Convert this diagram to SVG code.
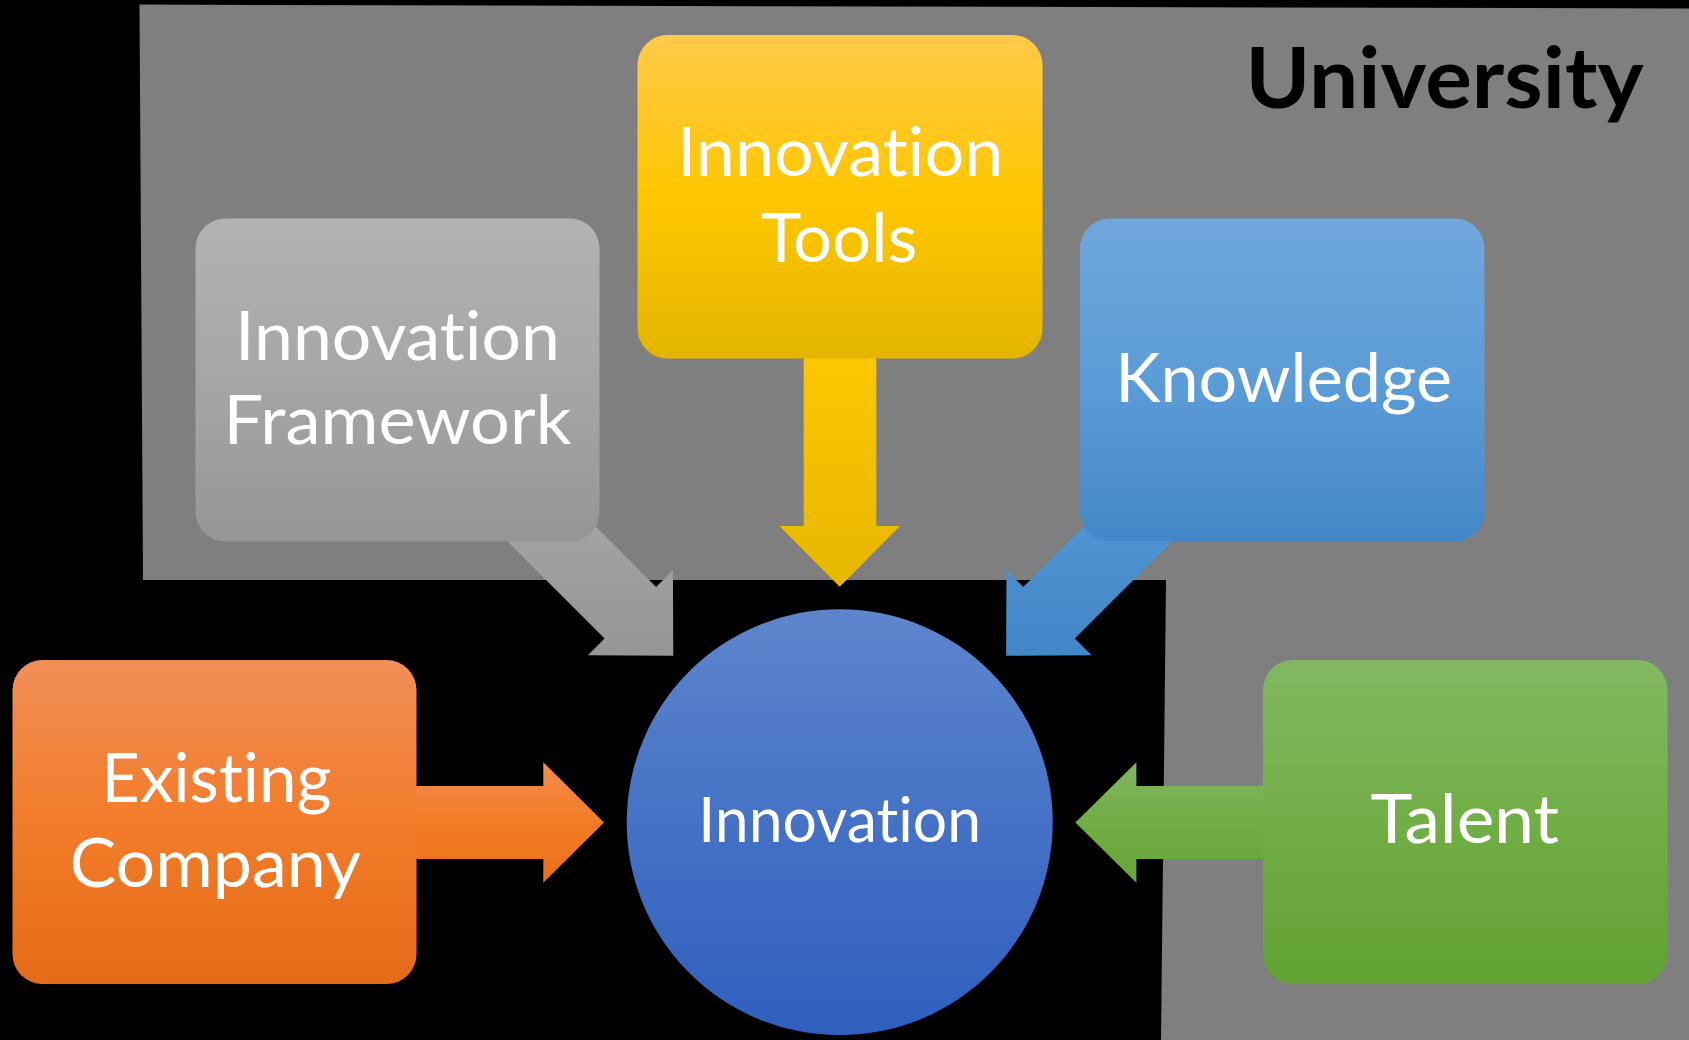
<svg xmlns="http://www.w3.org/2000/svg" width="1689" height="1040" viewBox="0 0 1689 1040">
  <defs>
    <linearGradient id="gGray" x1="0" y1="0" x2="0" y2="1">
      <stop offset="0" stop-color="#b2b2b2"/>
      <stop offset="0.5" stop-color="#a6a6a6"/>
      <stop offset="1" stop-color="#959595"/>
    </linearGradient>
    <linearGradient id="gYellow" x1="0" y1="0" x2="0" y2="1">
      <stop offset="0" stop-color="#ffc94a"/>
      <stop offset="0.5" stop-color="#ffc700"/>
      <stop offset="1" stop-color="#e3b500"/>
    </linearGradient>
    <linearGradient id="gBlue" x1="0" y1="0" x2="0" y2="1">
      <stop offset="0" stop-color="#70a6dc"/>
      <stop offset="0.5" stop-color="#5c9cd7"/>
      <stop offset="1" stop-color="#4488c9"/>
    </linearGradient>
    <linearGradient id="gOrange" x1="0" y1="0" x2="0" y2="1">
      <stop offset="0" stop-color="#f18e58"/>
      <stop offset="0.5" stop-color="#f37c2a"/>
      <stop offset="1" stop-color="#e46b17"/>
    </linearGradient>
    <linearGradient id="gGreen" x1="0" y1="0" x2="0" y2="1">
      <stop offset="0" stop-color="#82b862"/>
      <stop offset="0.5" stop-color="#71ae46"/>
      <stop offset="1" stop-color="#61a233"/>
    </linearGradient>
    <linearGradient id="gCircle" x1="0" y1="0" x2="0" y2="1">
      <stop offset="0" stop-color="#5e85cc"/>
      <stop offset="0.5" stop-color="#4572c6"/>
      <stop offset="1" stop-color="#2f5fbd"/>
    </linearGradient>
    <linearGradient id="aGray" x1="0" y1="0" x2="0" y2="1">
      <stop offset="0" stop-color="#a8a8a8"/>
      <stop offset="1" stop-color="#959595"/>
    </linearGradient>
    <linearGradient id="aYellow" x1="0" y1="0" x2="0" y2="1">
      <stop offset="0" stop-color="#ffc800"/>
      <stop offset="1" stop-color="#e6b700"/>
    </linearGradient>
    <linearGradient id="aBlue" x1="0" y1="0" x2="0" y2="1">
      <stop offset="0" stop-color="#5499d7"/>
      <stop offset="1" stop-color="#4386c7"/>
    </linearGradient>
    <linearGradient id="aOrange" x1="0" y1="0" x2="0" y2="1">
      <stop offset="0" stop-color="#f28d52"/>
      <stop offset="0.5" stop-color="#f47b25"/>
      <stop offset="1" stop-color="#e96e1a"/>
    </linearGradient>
    <linearGradient id="aGreen" x1="0" y1="0" x2="0" y2="1">
      <stop offset="0" stop-color="#80b660"/>
      <stop offset="0.5" stop-color="#70ad45"/>
      <stop offset="1" stop-color="#66a63a"/>
    </linearGradient>
  </defs>
  <style>
    .lbl { font-family: Lato, "Open Sans", "Liberation Sans", sans-serif; font-size: 68px; fill: #ffffff; text-anchor: middle; font-variant-ligatures: none; font-feature-settings: "liga" 0, "clig" 0; }
    .title { font-family: Lato, "Open Sans", "Liberation Sans", sans-serif; font-size: 84px; font-weight: 700; fill: #000000; text-anchor: middle; font-variant-ligatures: none; font-feature-settings: "liga" 0, "clig" 0; }
  </style>

  <rect x="0" y="0" width="1689" height="1040" fill="#000000"/>

  <g id="university">
    <polygon points="139.5,4.6 1689,8.5 1689,1040 1161,1040 1166,580 143,580" fill="#7f7f7f"/>
    <text class="title" x="1444.5" y="108.3" textLength="398" lengthAdjust="spacingAndGlyphs">University</text>
  </g>

  <g id="connectors">
    <polygon points="543.5,474.4 656.1,587.0 672.9,570.2 673.3,655.7 587.8,655.3 604.6,638.5 492.0,525.9" fill="url(#aGray)"/>
    <polygon points="803.7,340 876.3,340 876.3,526 900,526 839.7,586.7 779.5,526 803.7,526" fill="url(#aYellow)"/>
    <polygon points="1135.9,474.4 1023.3,587.0 1006.5,570.2 1006.1,655.7 1091.6,655.3 1074.8,638.5 1187.4,525.9" fill="url(#aBlue)"/>
    <polygon points="400,786.1 543.3,786.1 543.3,762.3 604,822.5 543.3,882.7 543.3,858.9 400,858.9" fill="url(#aOrange)"/>
    <polygon points="1280,786.1 1136.4,786.1 1136.4,762.3 1075.4,822.5 1136.4,882.7 1136.4,858.9 1280,858.9" fill="url(#aGreen)"/>
  </g>

  <g id="framework">
    <rect x="195.5" y="218.5" width="404" height="323" rx="30" ry="30" fill="url(#gGray)"/>
    <text class="lbl" x="397.5" y="360" textLength="325" lengthAdjust="spacingAndGlyphs">Innovation</text>
    <text class="lbl" x="397.5" y="444" textLength="348" lengthAdjust="spacingAndGlyphs">Framework</text>
  </g>

  <g id="tools">
    <rect x="637.5" y="35" width="405" height="323.5" rx="30" ry="30" fill="url(#gYellow)"/>
    <text class="lbl" x="840" y="175.7" textLength="326.6" lengthAdjust="spacingAndGlyphs">Innovation</text>
    <text class="lbl" x="839" y="261.7" textLength="156.6" lengthAdjust="spacingAndGlyphs">Tools</text>
  </g>

  <g id="knowledge">
    <rect x="1080" y="218.5" width="404.5" height="323" rx="30" ry="30" fill="url(#gBlue)"/>
    <text class="lbl" x="1283.7" y="401.7" textLength="337" lengthAdjust="spacingAndGlyphs">Knowledge</text>
  </g>

  <g id="existing-company">
    <rect x="12.5" y="660" width="404" height="324" rx="30" ry="30" fill="url(#gOrange)"/>
    <text class="lbl" x="216.3" y="802.3" textLength="230.6" lengthAdjust="spacingAndGlyphs">Existing</text>
    <text class="lbl" x="215.3" y="887.3" textLength="291.7" lengthAdjust="spacingAndGlyphs">Company</text>
  </g>

  <g id="talent">
    <rect x="1263" y="660" width="404.5" height="324" rx="30" ry="30" fill="url(#gGreen)"/>
    <text class="lbl" x="1464.8" y="843.3" textLength="188.6" lengthAdjust="spacingAndGlyphs">Talent</text>
  </g>

  <g id="innovation">
    <circle cx="839.7" cy="822.2" r="213" fill="url(#gCircle)"/>
    <text class="lbl" x="839.7" y="842.3" style="font-size:61px" textLength="282.7" lengthAdjust="spacingAndGlyphs">Innovation</text>
  </g>
</svg>
